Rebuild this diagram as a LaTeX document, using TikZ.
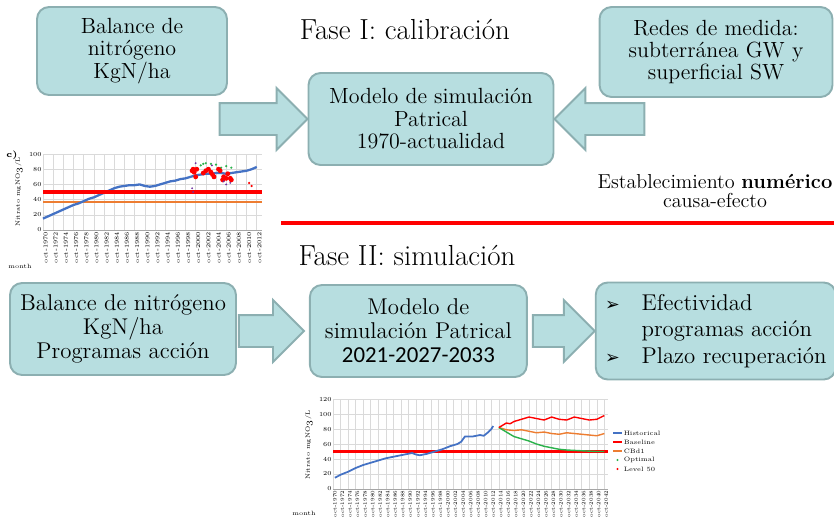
\documentclass[tikz,border=0pt]{standalone}
\usepackage{fontspec}
\newfontfamily\symfont{DejaVu Sans}
\newfontfamily\numfont{Carlito}
\usepackage{xcolor}
\usepackage{tikz}
\usetikzlibrary{shapes.arrows, positioning, calc}
\definecolor{BOX_FILL}{HTML}{B7DEE0}
\definecolor{BOX_EDGE}{HTML}{8CAFB1}
\definecolor{CH_BLUE}{HTML}{4472C4}
\definecolor{CH_RED}{HTML}{FF0000}
\definecolor{CH_ORANGE}{HTML}{ED7D31}
\definecolor{CH_GREEN}{HTML}{2BB24C}
\definecolor{CH_PURPLE}{HTML}{7030A0}
\definecolor{CH_GRID}{HTML}{DADADA}
\tikzset{
  box/.style={
    rectangle, rounded corners=0.24cm,
    draw=BOX_EDGE, fill=BOX_FILL, line width=1.1pt,
    text centered, align=center, inner sep=2pt},
  topbox/.style={box, font=\fontsize{12.5}{12.8}\selectfont},
  lowbox/.style={box, font=\fontsize{13}{13.6}\selectfont},
  blockarr/.style={
    single arrow, draw=BOX_EDGE, fill=BOX_FILL, line width=1.1pt,
    minimum width=1.2cm, single arrow head extend=0.3cm,
    single arrow tip angle=90, inner xsep=0pt, inner ysep=0.3cm,
    outer sep=0pt},
  phase/.style={font=\fontsize{16.5}{18}\selectfont},
  chgrid/.style={draw=CH_GRID, line width=0.3pt},
  chaxis/.style={draw=gray!70, line width=0.4pt},
  ticklab/.style={font=\fontsize{3.5}{4}\selectfont, inner sep=0.6pt},
  xlab/.style={font=\fontsize{3}{3.5}\selectfont, inner sep=0.4pt},
  leglab/.style={font=\fontsize{3.6}{4}\selectfont, inner sep=0.8pt},
  serie/.style={line width=0.8pt, line join=round},
}
\newcommand{\bul}{{\symfont\fontsize{10}{10}\selectfont ➢}}

\begin{document}
\begin{tikzpicture}[x=0.02cm, y=-0.02cm]
  \useasboundingbox (0,0) rectangle (834,518);

  % Fase I
  \node[topbox, minimum width=3.8cm, minimum height=1.76cm] (bal1) at (132,51)
    {Balance de\\nitrógeno\\KgN/ha};
  \node[topbox, minimum width=4.66cm, minimum height=1.8cm] (redes) at (716,52)
    {Redes de medida:\\subterránea GW y\\superficial SW};
  \node[topbox, minimum width=4.9cm, minimum height=1.84cm] (model1) at (431,119)
    {Modelo de simulación\\Patrical\\1970-actualidad};
  \node[phase] (fase1) at (405,30) {Fase I: calibración};

  \node[blockarr, minimum height=1.76cm, anchor=tip] (arrA) at (model1.west) {};
  \node[blockarr, minimum height=1.8cm, shape border rotate=180, anchor=tip]
    (arrB) at (model1.east) {};

  \node[font=\fontsize{11.5}{10.5}\selectfont, align=center] (estab) at (715,191)
    {Establecimiento \textbf{numérico}\\causa-efecto};

  \draw[CH_RED, line width=2.3pt] (281,223) coordinate (divL) -- (834,223) coordinate (divR);

  % Fase II
  \node[phase] (fase2) at (407,256) {Fase II: simulación};
  \node[lowbox, minimum width=4.52cm, minimum height=1.84cm] (bal2) at (123,329)
    {Balance de nitrógeno\\KgN/ha\\Programas acción};
  \node[lowbox, minimum width=4.34cm, minimum height=1.84cm, right=1.44cm of bal2,
    yshift=-0.04cm] (model2)
    {Modelo de\\simulación Patrical\\{\numfont 2021-2027-2033}};
  \node[lowbox, minimum width=4.8cm, minimum height=1.94cm, right=1.34cm of model2,
    align=left, font=\fontsize{13}{15.2}\selectfont] (efect)
    {\makebox[1.6em][l]{\bul}Efectividad\\
     \hspace*{1.6em}programas acción\\
     \makebox[1.6em][l]{\bul}Plazo recuperación};

  \node[blockarr, minimum height=1.3cm, anchor=tip] (arrC)
    at ([xshift=-0.1cm]model2.west) {};
  \node[blockarr, minimum height=1.24cm, anchor=tip] (arrD) at (efect.west) {};

  % chart c) calibration
  \begin{scope}[shift={(43,230)}, x=0.1018cm, y=0.0152cm]
    \foreach \t in {0,2,...,42} \draw[chgrid] (\t,0) -- (\t,100);
    \foreach \v in {20,40,...,100} \draw[chgrid] (0,\v) -- (43,\v);
    \draw[chaxis] (0,0) -- (43,0);
    \foreach \v in {0,20,...,100}
      \node[ticklab, anchor=east] (ya\v) at (0,\v) {\v};
    \foreach \t [evaluate=\t as \yr using int(1970+\t)] in {0,2,...,42}
      \node[ticklab, rotate=90, anchor=east] (xa\t) at (\t+0.5,-1) {oct-\yr};
    \draw[CH_ORANGE, line width=1.2pt] (0,37) -- (43,37);
    \draw[serie, CH_BLUE, line width=1.3pt] plot coordinates {
      (0,15) (1,18) (2,21) (3,24) (4,27) (5,30) (6,33) (7,35) (8,38)
      (9,41) (10,43) (11,46) (12,49) (13,52) (14,55) (15,57) (16,58)
      (17,59) (18,59) (19,60) (20,58) (21,57) (22,58) (23,60) (24,62)
      (25,64) (26,65) (27,67) (28,68) (29,70) (30,72) (31,73) (32,74)
      (33,74) (34,75) (35,75) (36,74) (37,75) (38,76) (39,77) (40,78)
      (41,80) (42,83)};
    \draw[CH_RED, line width=1.8pt] (0,50) -- (43,50);
    \foreach \t/\v in {31/85, 31.5/87, 32/88, 33/87, 34/86, 35/82, 36/84, 37/82}
      \fill[CH_GREEN] (\t,\v) circle[radius=0.7pt];
    \foreach \t/\v in {29.3/78, 29.5/80, 29.7/76, 30/70, 30.2/80, 31.5/75,
      32/78, 32.5/80, 33/76, 33.3/73, 33.6/70, 34.5/80, 34.8/78, 35.3/66,
      35.5/70, 36/68, 36.3/74, 36.8/68, 37/66}
      \fill[CH_RED] (\t,\v) circle[radius=1.4pt];
    \foreach \t/\v in {40.5/62, 41/58}
      \fill[CH_RED] (\t,\v) circle[radius=0.7pt];
    \foreach \t/\v in {29.3/55, 29.5/50, 30/88, 33.2/85, 35.5/64, 36/60, 36.8/62}
      \fill[CH_PURPLE] (\t,\v) circle[radius=0.6pt];
  \end{scope}
  \node[font=\fontsize{5}{5}\selectfont\bfseries] (clab) at (12,155) {c)};
  \node[ticklab, rotate=90] (ytit1) at (19,192) {Nitrato mgNO$_3$/L};
  \node[ticklab] (mon1) at (20,266) {month};

  % chart simulation
  \begin{scope}[shift={(333,489)}, x=0.0754cm, y=0.015cm]
    \foreach \t in {0,2,...,72} \draw[chgrid] (\t,0) -- (\t,120);
    \foreach \v in {20,40,...,120} \draw[chgrid] (0,\v) -- (73,\v);
    \draw[chaxis] (0,0) -- (73,0);
    \foreach \v in {0,20,...,120}
      \node[ticklab, anchor=east] (yb\v) at (0,\v) {\v};
    \foreach \t [evaluate=\t as \yr using int(1970+\t)] in {0,2,...,72}
      \node[xlab, rotate=90, anchor=east] (xb\t) at (\t+0.5,-1) {oct-\yr};
    \draw[CH_RED, line width=1.8pt] (0,50) -- (73,50);
    \draw[serie, CH_BLUE, line width=1pt] plot coordinates {
      (0.5,15) (2,19) (4,23) (6,28) (8,32) (10,35) (12,38) (14,41) (16,43)
      (18,45) (20,47) (21,48) (22,46) (23,45) (25,47) (27,50) (29,53)
      (31,57) (33,60) (34,63) (35,70) (37,70) (39,72) (40,71) (41,75)
      (42,80) (42.5,84)};
    \draw[serie, CH_ORANGE] plot coordinates {
      (44,82) (46,79) (48,78) (50,79) (52,77) (54,75) (56,76) (58,74)
      (60,73) (62,75) (64,74) (66,73) (68,72) (70,71) (72,74)};
    \draw[serie, CH_GREEN] plot coordinates {
      (44,82) (46,76) (48,70) (50,67) (52,64) (54,60) (56,57) (58,55)
      (60,53) (62,52) (64,51.5) (66,51) (68,50.5) (70,50) (72,50)};
    \draw[serie, CH_RED] plot coordinates {
      (44,82) (45,85) (46,88) (47,87) (48,90) (50,93) (52,96) (54,94)
      (56,92) (58,96) (60,93) (62,92) (64,96) (66,94) (68,92) (70,93)
      (72,98)};
  \end{scope}
  \node[ticklab, rotate=90] (ytit2) at (309,445) {Nitrato mgNO$_3$/L};
  \node[ticklab] (mon2) at (304,513) {month};

  % legend
  \draw[CH_BLUE, line width=0.8pt] (613,433) -- (622,433);
  \node[leglab, anchor=west] (lgH) at (622,433) {Historical};
  \draw[CH_RED, line width=0.8pt] (613,442) -- (622,442);
  \node[leglab, anchor=west] (lgB) at (622,442) {Baseline};
  \draw[CH_ORANGE, line width=0.8pt] (613,451) -- (622,451);
  \node[leglab, anchor=west] (lgC) at (622,451) {CBd1};
  \fill[CH_GREEN] (617.5,460) circle[radius=0.6pt];
  \node[leglab, anchor=west] (lgO) at (622,460) {Optimal};
  \fill[CH_RED] (617.5,469) circle[radius=0.6pt];
  \node[leglab, anchor=west] (lgL) at (622,469) {Level 50};

\end{tikzpicture}
\end{document}
